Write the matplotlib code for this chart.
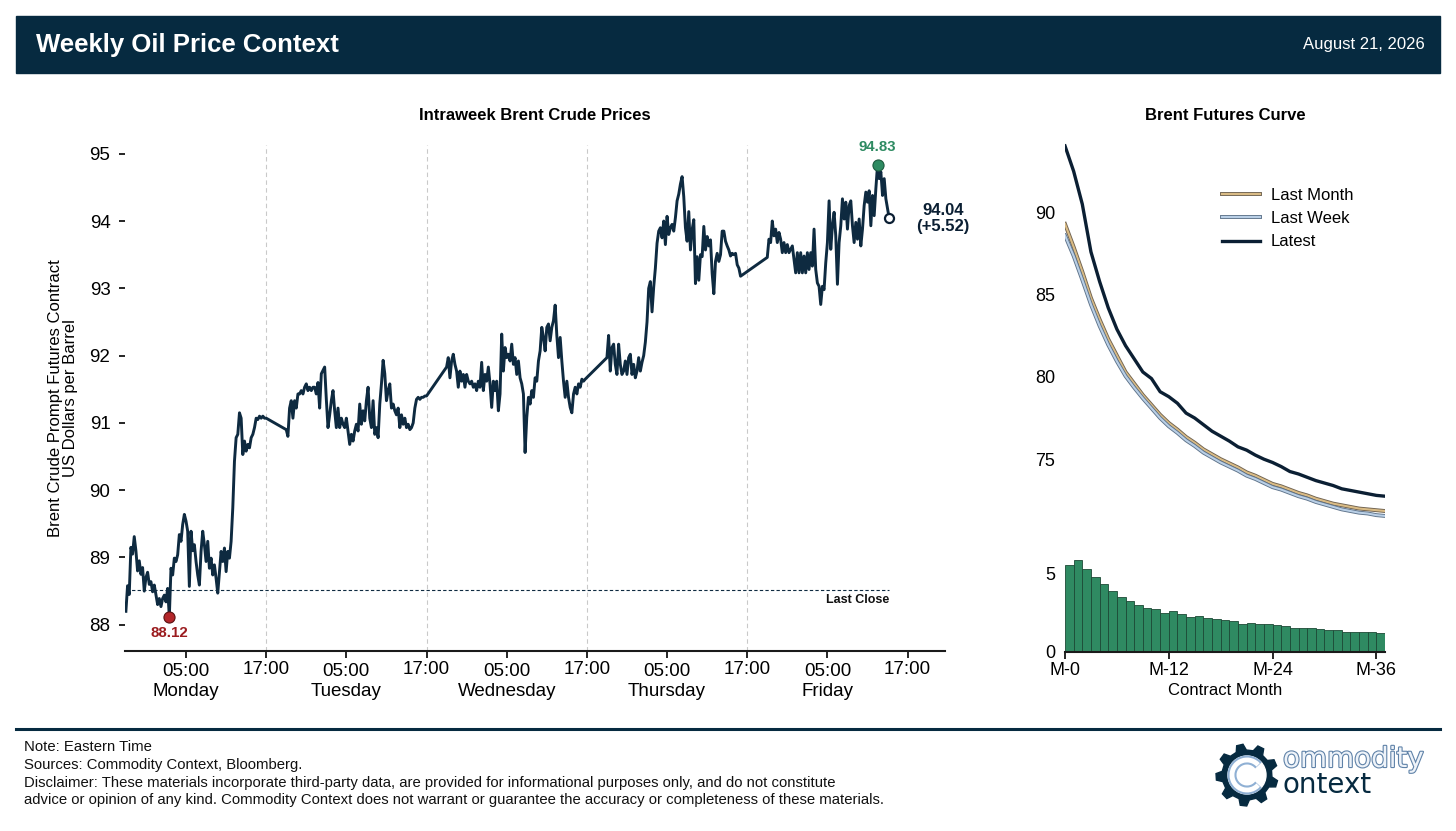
import numpy as np
import pandas as pd
import matplotlib
matplotlib.use('Agg')
import matplotlib.pyplot as plt
import matplotlib.patheffects as pe
from matplotlib.patches import Rectangle, Polygon, Circle, Arc
from matplotlib.lines import Line2D

plt.rcParams['font.family'] = ['Liberation Sans', 'DejaVu Sans']

NAVY = '#062a40'
LINE = '#0e2a40'
DARK = '#0b1f33'

# --- intraweek Brent, 15 minute bars, one list per trading session (ET) ---
session_starts = ['2026-08-16 20:00', '2026-08-17 20:00', '2026-08-18 20:00',
                  '2026-08-19 20:00', '2026-08-20 20:00']

mon = [88.20, 88.58, 88.45, 89.15, 89.05, 89.31, 89.10, 88.80, 88.95, 88.75,
       88.85, 88.50, 88.70, 88.78, 88.60, 88.64, 88.49, 88.59, 88.44, 88.30,
       88.39, 88.27, 88.39, 88.44, 88.34, 88.54, 88.12, 88.84, 88.74, 88.99,
       88.94, 89.04, 89.34, 89.24, 89.49, 89.64, 89.54, 89.39, 88.57, 89.39,
       89.10, 89.19, 88.94, 88.74, 88.59, 89.09, 89.39, 89.19, 88.94, 89.24,
       88.84, 88.99, 88.74, 88.89, 88.69, 88.47, 88.79, 89.09, 88.94, 89.14,
       88.79, 89.09, 88.99, 89.24, 89.74, 90.43, 90.78, 90.83, 91.15, 91.07,
       90.53, 90.73, 90.58, 90.68, 90.63, 90.78, 90.83, 90.93, 91.07, 91.05,
       91.10, 91.07, 91.10, 91.07, 91.07]
tue = [90.90, 90.80, 91.22, 91.33, 91.07, 91.33, 91.22, 91.43, 91.43, 91.48,
       91.43, 91.53, 91.58, 91.48, 91.53, 91.48, 91.53, 91.53, 91.43, 91.60,
       91.22, 91.73, 91.78, 91.83, 91.35, 90.93, 91.12, 91.33, 91.48, 91.18,
       90.93, 91.22, 90.93, 91.07, 90.98, 90.93, 91.07, 90.88, 90.68, 90.83,
       90.73, 90.88, 90.98, 90.88, 91.28, 90.98, 91.18, 91.03, 91.33, 91.53,
       91.07, 90.93, 91.33, 90.83, 90.93, 90.78, 91.28, 91.58, 91.93, 91.73,
       91.33, 91.48, 91.58, 91.22, 91.28, 91.18, 91.12, 91.22, 90.93, 91.12,
       90.98, 91.07, 90.93, 90.98, 90.90, 90.93, 91.00, 91.22, 91.35, 91.38,
       91.35, 91.38, 91.38, 91.40, 91.40]
wed = [91.83, 91.97, 91.67, 91.92, 92.02, 91.87, 91.77, 91.53, 91.77, 91.62,
       91.72, 91.53, 91.72, 91.62, 91.58, 91.62, 91.53, 91.58, 91.48, 91.62,
       91.53, 91.90, 91.48, 91.72, 91.62, 91.83, 91.58, 91.23, 91.62, 91.48,
       91.62, 91.18, 91.43, 92.32, 91.77, 92.12, 91.97, 92.02, 91.92, 92.17,
       91.87, 91.97, 91.72, 91.92, 91.67, 91.58, 91.43, 90.56, 91.08, 91.38,
       91.28, 91.48, 91.38, 91.67, 91.62, 91.92, 92.07, 92.42, 92.27, 92.07,
       92.42, 92.47, 92.22, 92.42, 92.52, 92.75, 92.30, 91.97, 92.27, 91.92,
       91.62, 91.38, 91.62, 91.38, 91.23, 91.15, 91.43, 91.53, 91.43, 91.58,
       91.53, 91.65, 91.62, 91.65]
thu = [91.97, 92.30, 91.77, 92.12, 92.17, 91.87, 91.72, 92.17, 91.87, 91.72,
       91.77, 91.92, 91.72, 91.97, 92.02, 91.72, 91.87, 91.67, 91.77, 91.97,
       91.77, 91.90, 92.00, 92.20, 92.50, 93.00, 93.10, 92.65, 93.02, 93.30,
       93.67, 93.85, 93.90, 93.75, 94.00, 93.65, 94.07, 93.80, 93.90, 93.95,
       93.85, 94.05, 94.30, 94.40, 94.55, 94.66, 94.36, 93.90, 93.70, 94.14,
       93.57, 93.87, 94.02, 93.07, 93.47, 93.12, 93.50, 93.47, 93.92, 93.57,
       93.77, 93.63, 93.72, 93.22, 92.92, 93.40, 93.52, 93.40, 93.50, 93.85,
       93.85, 93.70, 93.63, 93.57, 93.48, 93.52, 93.50, 93.52, 93.35, 93.30,
       93.18]
fri = [93.46, 93.73, 93.68, 94.00, 93.78, 93.88, 93.68, 93.83, 93.73, 93.53,
       93.68, 93.53, 93.65, 93.53, 93.58, 93.63, 93.43, 93.23, 93.53, 93.23,
       93.53, 93.23, 93.48, 93.23, 93.53, 93.28, 93.53, 93.33, 93.88, 93.28,
       93.08, 93.03, 92.76, 93.03, 92.98, 93.38, 93.68, 94.30, 93.58, 93.93,
       94.13, 93.78, 93.06, 93.68, 93.93, 94.33, 94.03, 94.28, 93.88, 94.23,
       94.30, 93.93, 93.68, 93.98, 93.73, 94.03, 93.63, 93.88, 94.23, 94.43,
       94.28, 94.45, 93.93, 94.38, 94.08, 94.48, 94.83, 94.63, 94.73, 94.38,
       94.63, 94.33, 94.18, 94.04]
sessions = [mon, tue, wed, thu, fri]
last_close = 88.52

days = ['Monday', 'Tuesday', 'Wednesday', 'Thursday', 'Friday']
day_dates = ['2026-08-17', '2026-08-18', '2026-08-19', '2026-08-20', '2026-08-21']

# --- Brent futures curve ---
contract_labels = ['M-0', 'M-12', 'M-24', 'M-36']
latest = [94.04, 92.5, 90.5, 87.6, 85.8, 84.2, 82.9, 81.9, 81.1, 80.3,
          79.9, 79.1, 78.8, 78.4, 77.8, 77.5, 77.1, 76.7, 76.4, 76.1,
          75.75, 75.55, 75.25, 75.0, 74.8, 74.55, 74.25, 74.1, 73.9, 73.7,
          73.55, 73.4, 73.2, 73.1, 73.0, 72.9, 72.8, 72.75]
last_month = [89.3, 87.9, 86.4, 84.8, 83.5, 82.3, 81.3, 80.3, 79.6, 78.9,
              78.3, 77.7, 77.2, 76.8, 76.35, 76.0, 75.6, 75.3, 75.0, 74.75,
              74.5, 74.2, 74.0, 73.75, 73.5, 73.35, 73.15, 72.95, 72.8, 72.6,
              72.45, 72.3, 72.2, 72.1, 72.0, 71.95, 71.9, 71.85]
last_week = [88.6, 87.35, 85.9, 84.4, 83.1, 81.95, 80.95, 80.05, 79.35, 78.7,
             78.1, 77.5, 77.0, 76.6, 76.15, 75.8, 75.4, 75.1, 74.8, 74.55,
             74.3, 74.0, 73.8, 73.55, 73.3, 73.15, 72.95, 72.75, 72.6, 72.4,
             72.25, 72.1, 71.95, 71.85, 71.75, 71.7, 71.6, 71.55]
spread = [5.56, 5.87, 5.33, 4.82, 4.36, 3.90, 3.51, 3.26, 3.00, 2.82,
          2.74, 2.51, 2.59, 2.46, 2.21, 2.28, 2.18, 2.13, 2.05, 2.00,
          1.82, 1.87, 1.82, 1.77, 1.74, 1.67, 1.51, 1.56, 1.51, 1.46,
          1.41, 1.38, 1.26, 1.31, 1.28, 1.26, 1.23]

W, H = 1456, 831


def fx(px):
    return px / W


def fy(py):
    return 1 - py / H


fig = plt.figure(figsize=(W / 100, H / 100), dpi=100)

# header bar
fig.patches.append(Rectangle((fx(16), fy(73)), fx(1424), 57 / H, transform=fig.transFigure,
                             color=NAVY, zorder=0))
fig.text(fx(36), fy(45), 'Weekly Oil Price Context', color='white', fontsize=18.5,
         fontweight='bold', va='center')
fig.text(fx(1425), fy(45), 'August 21, 2026', color='white', fontsize=12, ha='right', va='center')

# ---------------- intraweek prices ----------------
times = pd.DatetimeIndex([])
for start, vals in zip(session_starts, sessions):
    times = times.append(pd.date_range(start, periods=len(vals), freq='15min'))
prices = np.concatenate([np.array(s) for s in sessions])

ax = fig.add_axes([fx(125), fy(651), fx(820), 506 / H])
ax.plot(times, prices, color=LINE, lw=2.1, zorder=3)
ax.set_xlim(pd.Timestamp('2026-08-16 19:52'), pd.Timestamp('2026-08-21 22:36'))
ax.set_ylim(87.61, 95.13)

for d in day_dates[:4]:
    ax.axvline(pd.Timestamp(d + ' 17:00'), color='#c9c9c9', ls=(0, (4, 3)), lw=0.8, zorder=0)

ax.hlines(last_close, times[0], times[-1], colors=LINE, linestyles=(0, (3, 2)), lw=0.8, zorder=2)
ax.text(times[-1], last_close - 0.06, 'Last Close', ha='right', va='top', fontsize=9,
        fontweight='bold', color='#111111')

ax.set_xticks([pd.Timestamp(d + ' 05:00') for d in day_dates],
              labels=['05:00\n' + d for d in days])
ax.set_xticks([pd.Timestamp(d + ' 17:00') for d in day_dates], labels=['17:00'] * 5, minor=True)
ax.tick_params(axis='x', which='major', length=5, width=1.2, labelsize=13.5, pad=4)
ax.tick_params(axis='x', which='minor', length=5, width=1.2, labelsize=13.5, pad=2)
ax.set_yticks(range(88, 96))
ax.tick_params(axis='y', length=4.5, width=1.2, labelsize=13.5, pad=6)
for s in ['top', 'right', 'left']:
    ax.spines[s].set_visible(False)
ax.spines['bottom'].set_linewidth(1.5)
ax.spines['bottom'].set_color('#1a1a1a')

ax.set_ylabel('Brent Crude Prompt Futures Contract\nUS Dollars per Barrel', fontsize=12,
              linespacing=1.05)
ax.yaxis.set_label_coords(-0.057, 0.5)

imin = int(np.argmin(prices))
imax = int(np.argmax(prices))
ax.plot(times[imin], prices[imin], 'o', ms=8, mfc='#b3262a', mec='#5a1212', mew=0.8, zorder=5)
ax.annotate(f'{prices[imin]:.2f}', (times[imin], prices[imin]), xytext=(0, -7),
            textcoords='offset points', ha='center', va='top', color='#9b1c1f',
            fontsize=10.8, fontweight='bold')
ax.plot(times[imax], prices[imax], 'o', ms=8, mfc='#2e8b62', mec='#1b5a3e', mew=0.8, zorder=5)
ax.annotate(f'{prices[imax]:.2f}', (times[imax], prices[imax]), xytext=(0, 8),
            textcoords='offset points', ha='center', va='bottom', color='#2e8b62',
            fontsize=10.8, fontweight='bold')
ax.plot(times[-1], prices[-1], 'o', ms=6.5, mfc='white', mec=DARK, mew=1.6, zorder=6)
ax.annotate(f'{prices[-1]:.2f}\n(+{prices[-1] - last_close:.2f})', (times[-1], prices[-1]),
            xytext=(54, 0), textcoords='offset pixels', ha='center', va='center',
            fontsize=12, fontweight='bold', color=DARK, linespacing=1.05,
            annotation_clip=False)

fig.text(fx(535), fy(116), 'Intraweek Brent Crude Prices', ha='center', va='center',
         fontsize=12, fontweight='bold')

# ---------------- futures curve ----------------
months = np.arange(len(latest))
ax2 = fig.add_axes([fx(1065), fy(525), fx(320), 385 / H])
ax2.plot(months, last_month, color='#d9bb85', lw=1.5, label='Last Month',
         path_effects=[pe.Stroke(linewidth=2.8, foreground='#6f6250'), pe.Normal()])
ax2.plot(months, last_week, color='#b9cfe6', lw=1.5, label='Last Week',
         path_effects=[pe.Stroke(linewidth=2.8, foreground='#5e738a'), pe.Normal()])
ax2.plot(months, latest, color=DARK, lw=2.4, label='Latest')
ax2.set_xlim(0, 37)
ax2.set_ylim(71.0, 94.4)
for s in ax2.spines.values():
    s.set_visible(False)
ax2.set_xticks([])
ax2.set_yticks([75, 80, 85, 90])
ax2.tick_params(axis='y', length=0, pad=7, labelsize=13)
ax2.legend(loc='upper left', bbox_to_anchor=(0.49, 0.876), frameon=False, fontsize=12,
           handlelength=2.3, handletextpad=0.65, labelspacing=0.5, borderpad=0,
           borderaxespad=0)

ax3 = fig.add_axes([fx(1065), fy(652), fx(320), 97 / H])
ax3.bar(np.arange(len(spread)), spread, width=1.0, align='edge', color='#2f8a62',
        edgecolor='#1d4a36', linewidth=0.6)
ax3.set_xlim(0, 37)
ax3.set_ylim(0, 6.2)
for s in ['top', 'right', 'left']:
    ax3.spines[s].set_visible(False)
ax3.spines['bottom'].set_linewidth(1.5)
ax3.spines['bottom'].set_color('#1a1a1a')
ax3.set_xticks([0, 12, 24, 36], labels=contract_labels)
ax3.set_yticks([0, 5])
ax3.tick_params(axis='x', length=5, width=1.2, labelsize=13, pad=2)
ax3.tick_params(axis='y', length=0, pad=7, labelsize=13)
ax3.set_xlabel('Contract Month', fontsize=12, labelpad=3)

fig.text(fx(1225), fy(116), 'Brent Futures Curve', ha='center', va='center',
         fontsize=12, fontweight='bold')

# ---------------- footer ----------------
fig.add_artist(Line2D([fx(16), fx(1440)], [fy(729), fy(729)], color=NAVY, lw=2.2,
                      transform=fig.transFigure))
footer = ['Note: Eastern Time',
          'Sources: Commodity Context, Bloomberg.',
          'Disclaimer: These materials incorporate third-party data, are provided for informational purposes only, and do not constitute',
          'advice or opinion of any kind. Commodity Context does not warrant or guarantee the accuracy or completeness of these materials.']
for line, py in zip(footer, [747, 765, 783, 800]):
    fig.text(fx(24), fy(py), line, fontsize=10.7, va='center', color='#111111')

# logo
axl = fig.add_axes([fx(1205), fy(825), fx(235), 90 / H])
axl.set_xlim(0, 235)
axl.set_ylim(0, 90)
axl.axis('off')
cx, cy = 42, 50
pts = []
n = 9
step = 2 * np.pi / n
for i in range(n):
    a0 = step * i + 0.2
    for a, r in [(a0, 25), (a0 + 0.15 * step, 31), (a0 + 0.45 * step, 31), (a0 + 0.6 * step, 25)]:
        pts.append((cx + r * np.cos(a), cy + r * np.sin(a)))
axl.add_patch(Polygon(pts, closed=True, color=NAVY))
axl.add_patch(Circle((cx, cy), 19, color='white'))
axl.add_patch(Arc((cx, cy), 30, 30, theta1=40, theta2=320, lw=6.5, color='#8fb0d4'))
axl.add_patch(Arc((cx, cy), 30, 30, theta1=42, theta2=318, lw=3.5, color='white'))
axl.text(78, 58, 'ommodity', fontsize=20, family='DejaVu Sans', color='#eef3f9',
         va='baseline', path_effects=[pe.withStroke(linewidth=1.6, foreground='#5f82a8')])
axl.text(78, 32, 'ontext', fontsize=20, family='DejaVu Sans', color=NAVY, va='baseline')

fig.savefig('out.png', dpi=100)
